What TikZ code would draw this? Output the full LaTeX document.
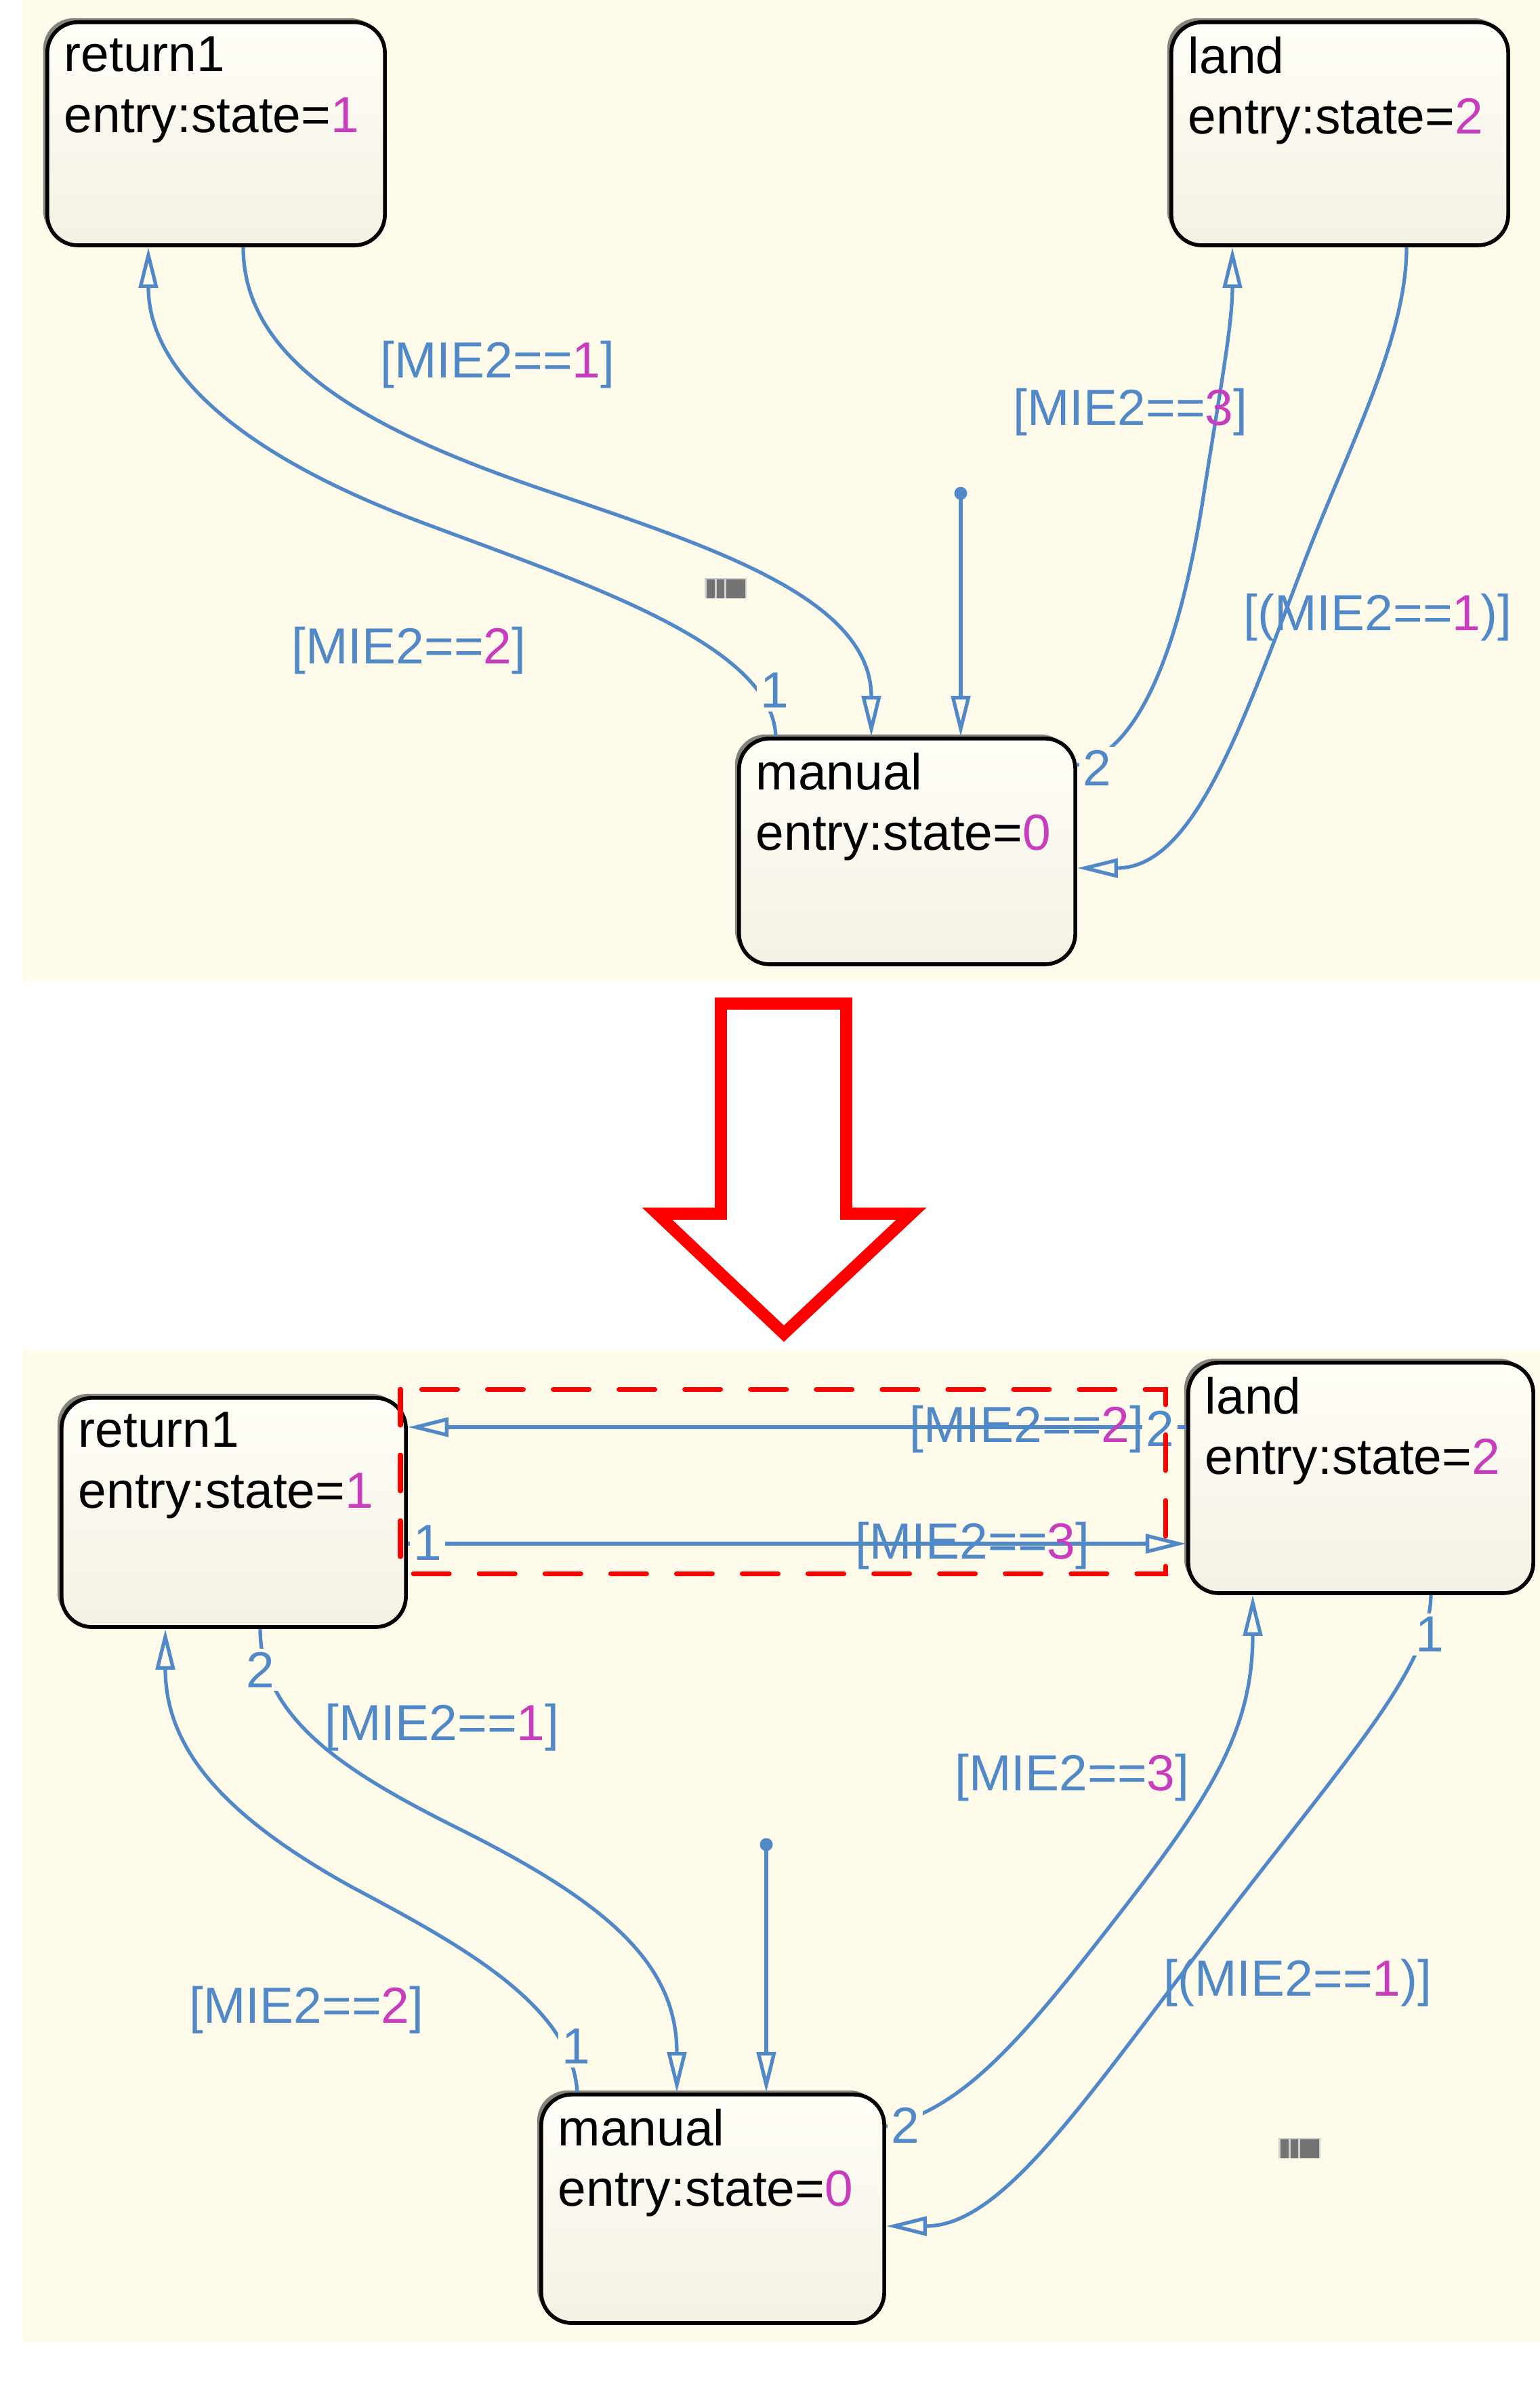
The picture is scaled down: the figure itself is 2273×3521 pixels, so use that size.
\documentclass[tikz,border=0pt]{standalone}
\usepackage{fontspec}
\setmainfont{Liberation Sans}
\usepackage{tikz}
\usetikzlibrary{calc}
\usetikzlibrary{arrows.meta,shadows,positioning}

\definecolor{bgcream}{HTML}{FFFBEA}
\definecolor{stateblue}{HTML}{5088C8}
\definecolor{numpink}{HTML}{C83CBE}
\definecolor{boxtop}{HTML}{FFFEF7}
\definecolor{boxbot}{HTML}{F4F1E4}

\newcommand\pk[1]{\textcolor{numpink}{#1}}
\newcommand\statefont{\fontsize{21.3}{25.5}\selectfont}
\newcommand\stbody[4]{\parbox[t][#2][t]{#1}{\raggedright #3\\entry:state=\pk{#4}}}

\tikzset{
  stt/.style={draw=black, line width=1.6pt, rounded corners=0.45cm, top color=boxtop, bottom color=boxbot,
    inner xsep=0.25cm, inner ysep=0.21cm, anchor=north west,
    drop shadow={shadow xshift=-0.06cm, shadow yshift=0.06cm, opacity=0.6, fill=black!80}},
  conn/.style={draw=stateblue, line width=1.5pt, -{Triangle[open,length=0.6cm,width=0.28cm]}},
  cond/.style={text=stateblue, inner sep=0pt, anchor=base west},
  ordlbl/.style={text=stateblue, fill=bgcream, inner sep=1.5pt},
  initdot/.style={circle, fill=stateblue, inner sep=0pt, minimum size=0.19cm},
  selbox/.style={draw=red, line width=2pt, dash pattern=on 0.53cm off 0.44cm, line cap=round},
  bigarrow/.style={draw=red, line width=5pt, line join=miter, fill=white}
}

\begin{document}
\begin{tikzpicture}[x=0.01cm, y=-0.01cm, every node/.append style={font=\statefont}]
\useasboundingbox (0,0) rectangle (2273,3521);
\fill[white] (0,0) rectangle (2273,3521);
\fill[bgcream] (33,0) rectangle (2273,1447);
\fill[bgcream] (33,1993) rectangle (2273,3456);

% before / after arrow
\draw[bigarrow] (1064,1481) -- (1249,1481) -- (1249,1791) -- (1345,1791) -- (1157,1968)
  -- (970,1791) -- (1064,1791) -- cycle;

% states, top chart
\node[stt] (retA) at (67,30) {\stbody{4.48cm}{2.87cm}{return1}{1}};
\node[stt] (landA) at (1726,30) {\stbody{4.47cm}{2.87cm}{land}{2}};
\node[stt] (manA) at (1088,1087) {\stbody{4.46cm}{2.91cm}{manual}{0}};

% states, bottom chart
\node[stt] (retB) at (88,2060) {\stbody{4.58cm}{2.96cm}{return1}{1}};
\node[stt] (landB) at (1751,2008) {\stbody{4.59cm}{2.98cm}{land}{2}};
\node[stt] (manB) at (796,3088) {\stbody{4.56cm}{2.95cm}{manual}{0}};

% transitions, top chart
\draw[conn] ($(retA.south west)+(292,0)$) .. controls (359,540) and (560,640) .. (800,722)
  .. controls (1040,804) and (1286,880) .. ($(manA.north west)+(198,0)$);
\draw[conn] ($(manA.north west)+(57,0)$) .. controls (1140,950) and (860,860) .. (620,770)
  .. controls (380,680) and (219,560) .. ($(retA.south west)+(152,0)$);
\draw[conn] ($(manA.north east)+(0,42)$) .. controls (1680,1110) and (1740,960) .. (1775,740)
  .. controls (1800,580) and (1819,480) .. ($(landA.south west)+(93,0)$);
\draw[conn] ($(landA.south west)+(350,0)$) .. controls (2076,500) and (1990,660) .. (1924,832)
  .. controls (1830,1080) and (1760,1281) .. ($(manA.north east)+(0,194)$);
\node[initdot] (initA) at (1418,728) {};
\draw[conn] (initA.center) -- (initA |- manA.north);

% transitions, bottom chart
\draw[conn] ($(landB.north west)+(0,98)$) -- ($(retB.north east)+(0,46)$);
\draw[conn] ($(retB.north east)+(0,218)$) -- ($(landB.north west)+(0,270)$);
\draw[conn] ($(retB.south west)+(296,0)$) .. controls (384,2540) and (520,2620) .. (680,2700)
  .. controls (900,2810) and (999,2900) .. ($(manB.north west)+(203,0)$);
\draw[conn] ($(manB.north west)+(56,0)$) .. controls (845,2960) and (680,2870) .. (520,2785)
  .. controls (330,2680) and (244,2580) .. ($(retB.south west)+(156,0)$);
\draw[conn] ($(manB.north east)+(0,50)$) .. controls (1420,3110) and (1500,3020) .. (1640,2840)
  .. controls (1780,2660) and (1849,2560) .. ($(landB.south west)+(98,0)$);
\draw[conn] ($(landB.south west)+(361,0)$) .. controls (2110,2460) and (2000,2580) .. (1800,2840)
  .. controls (1600,3100) and (1480,3285) .. ($(manB.north east)+(0,197)$);
\node[initdot] (initB) at (1131,2722) {};
\draw[conn] (initB.center) -- (initB |- manB.north);

% execution order
\node[ordlbl] (oA2) at (1143,1019) {1};
\node[ordlbl] (oA3) at (1619,1133) {2};
\node[ordlbl] (oB1) at (1712,2108) {2};
\node[ordlbl] (oB2) at (631,2277) {1};
\node[ordlbl] (oB3) at (384,2464) {2};
\node[ordlbl] (oB4) at (850,3020) {1};
\node[ordlbl] (oB6) at (1336,3136) {2};
\node[ordlbl] (oB7) at (2110,2412) {1};

% guards
\node[cond] (cA1) at (561,557) {[MIE2==\pk{1}]};
\node[cond] (cA2) at (430,979) {[MIE2==\pk{2}]};
\node[cond] (cA3) at (1495,627) {[MIE2==\pk{3}]};
\node[cond] (cA4) at (1835,930) {[(MIE2==\pk{1})]};
\node[cond] (cB1) at (1342,2128) {[MIE2==\pk{2}]};
\node[cond] (cB2) at (1262,2300) {[MIE2==\pk{3}]};
\node[cond] (cB3) at (479,2568) {[MIE2==\pk{1}]};
\node[cond] (cB4) at (279,2985) {[MIE2==\pk{2}]};
\node[cond] (cB5) at (1409,2642) {[MIE2==\pk{3}]};
\node[cond] (cB6) at (1717,2945) {[(MIE2==\pk{1})]};

% small chart icons
\foreach \ix/\iy in {1040/853,1887/3155} {
  \begin{scope}[shift={(\ix,\iy)}]
    \fill[black!18] (0,0) rectangle (62,30);
    \fill[black!55] (3,2) rectangle (15,30);
    \fill[black!55] (18,2) rectangle (29,30);
    \fill[black!55] (32,2) rectangle (60,30);
  \end{scope}
}

% highlighted pair
\draw[selbox] (591,2050) rectangle (1720,2322);
\end{tikzpicture}
\end{document}
